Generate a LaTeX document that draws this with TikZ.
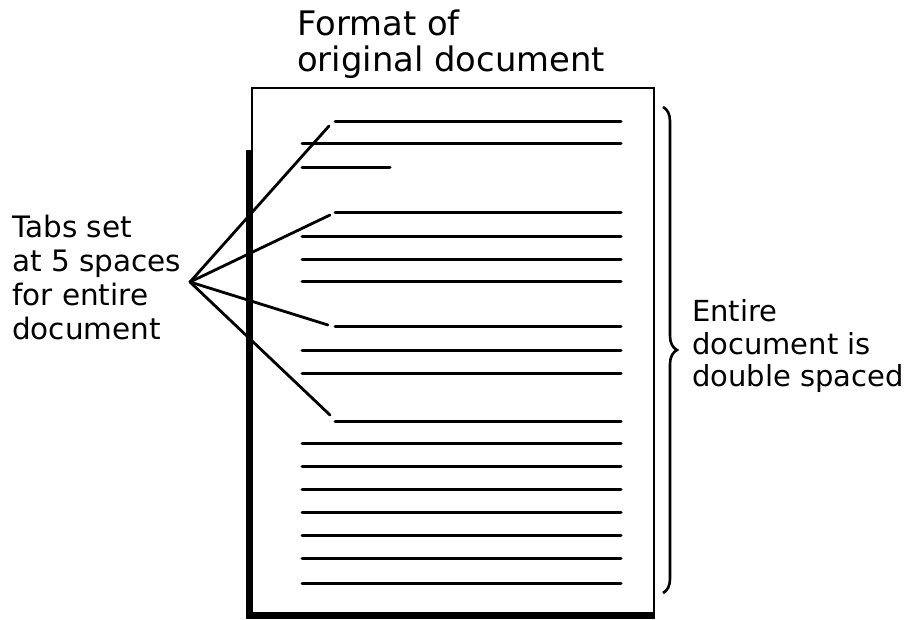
\documentclass[tikz,border=0pt]{standalone}
\usepackage{fontspec}
\setmainfont{DejaVu Sans}
\usetikzlibrary{decorations.pathreplacing}

\tikzset{
    label/.style={anchor=base west, inner sep=0pt, align=left},
    textline/.style={line width=3pt, line cap=round},
    fanline/.style={line width=2.8pt, line cap=round},
}

\begin{document}
\begin{tikzpicture}[x=1pt, y=-1pt]
    \useasboundingbox (0,0) rectangle (910,619);

    % --- Pagina (con ombra a sinistra e in basso) ---
    \draw[line width=5pt] (248,150) -- (248,616) -- (655,616);
    \draw[line width=2.8pt, fill=white] (252,88) rectangle (654,613);

    % --- Titolo (ancorato all'ultima riga) ---
    \node[label, font=\fontsize{33.8}{36}\selectfont] (title) at (297,71.7)
        {Format of\\original document};

    % --- Righe del testo ---
    % righe rientrate (inizio paragrafo)
    \foreach \y [count=\i] in {121,212,326,421} {
        \coordinate (tab\i) at (335,\y);
        \draw[textline] (tab\i) -- (621,\y);
    }
    % righe intere
    \foreach \y in {143,236,259,281,350,373,443,466,489,512,535,558,583} {
        \draw[textline] (302,\y) -- (621,\y);
    }
    % riga corta
    \draw[textline] (302,167) -- (390,167);

    % --- Etichetta a sinistra e ventaglio ---
    \node[label, font=\fontsize{29.5}{34}\selectfont] (tabs) at (12,339.5)
        {Tabs set\\at 5 spaces\\for entire\\document};
    \coordinate (fan) at (190,282);
    \draw[fanline] (fan) -- ([shift={(-6,5)}]tab1);
    \draw[fanline] (fan) -- ([shift={(-5,3)}]tab2);
    \draw[fanline] (fan) -- ([shift={(-7,-1)}]tab3);
    \draw[fanline] (fan) -- ([shift={(-5,-6)}]tab4);

    % --- Graffa a destra ---
    \coordinate (bracetop) at (663,107);
    \coordinate (bracebot) at (663,593);
    \draw[line width=2.6pt, decorate, decoration={brace, amplitude=14pt}]
        (bracetop) -- (bracebot);
    \node[label, font=\fontsize{29}{32.5}\selectfont] (spaced) at (692,386.7)
        {Entire\\document is\\double spaced};
\end{tikzpicture}
\end{document}
